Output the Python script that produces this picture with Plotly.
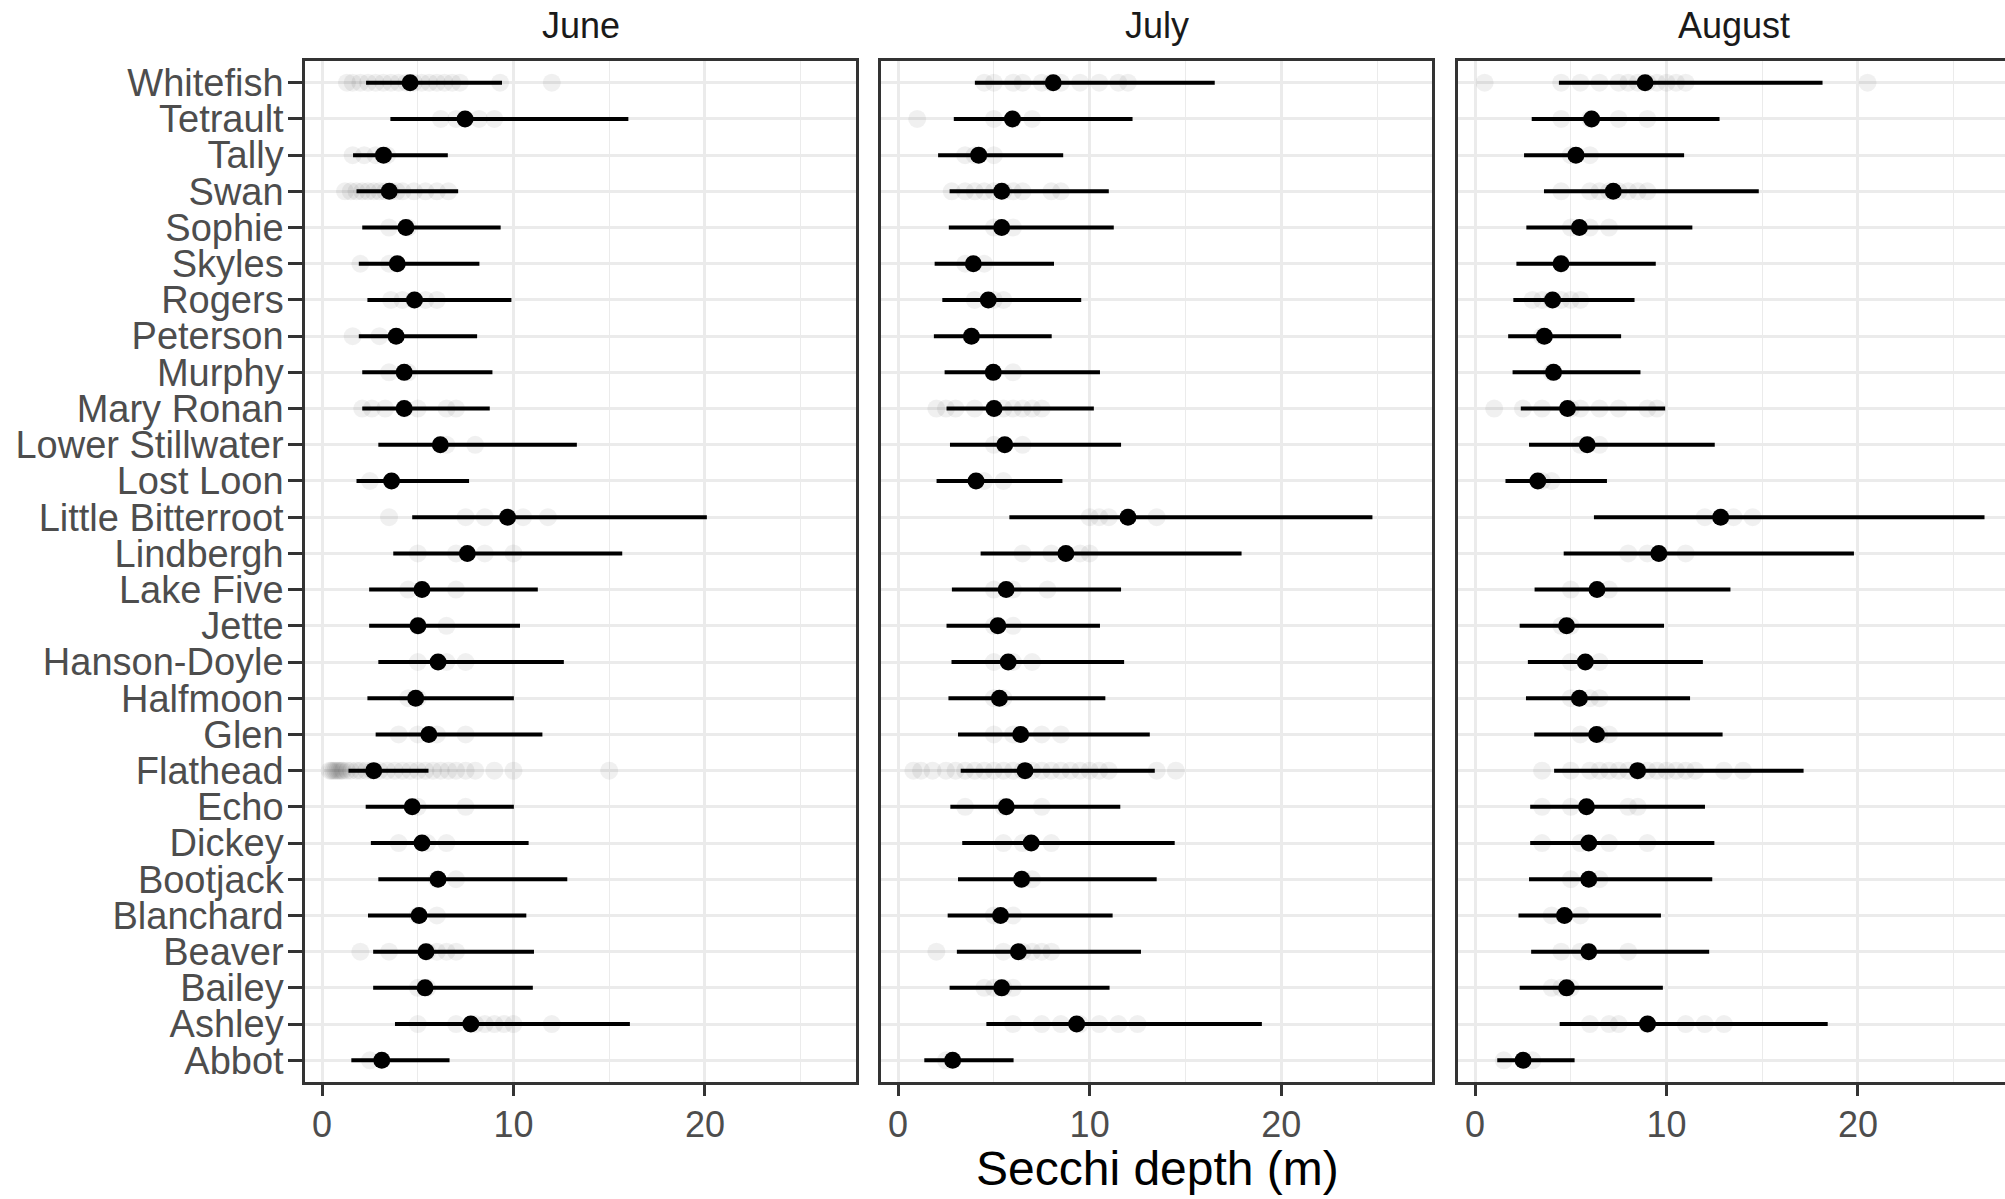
import plotly.graph_objects as go

W, H = 2005, 1199

lakes = ["Whitefish", "Tetrault", "Tally", "Swan", "Sophie", "Skyles", "Rogers",
         "Peterson", "Murphy", "Mary Ronan", "Lower Stillwater", "Lost Loon",
         "Little Bitterroot", "Lindbergh", "Lake Five", "Jette", "Hanson-Doyle",
         "Halfmoon", "Glen", "Flathead", "Echo", "Dickey", "Bootjack", "Blanchard",
         "Beaver", "Bailey", "Ashley", "Abbot"]
months = ["June", "July", "August"]

june_mean = [4.6, 7.47, 3.21, 3.51, 4.38, 3.93, 4.83, 3.87, 4.29, 4.29, 6.18, 3.63, 9.69, 7.59,
             5.22, 5.01, 6.06, 4.89, 5.58, 2.70, 4.71, 5.22, 6.06, 5.07, 5.43, 5.38, 7.77, 3.12]
june_lo = [2.3, 3.57, 1.62, 1.80, 2.10, 1.92, 2.37, 1.92, 2.10, 2.10, 2.94, 1.80, 4.71, 3.72,
           2.46, 2.46, 2.94, 2.37, 2.80, 1.38, 2.28, 2.55, 2.94, 2.40, 2.67, 2.67, 3.81, 1.53]
june_hi = [9.4, 16.0, 6.57, 7.11, 9.33, 8.22, 9.89, 8.10, 8.90, 8.76, 13.31, 7.68, 20.1, 15.68,
           11.27, 10.34, 12.63, 10.02, 11.51, 5.56, 10.02, 10.79, 12.81, 10.67, 11.07, 11.01, 16.08, 6.66]

july_mean = [8.10, 5.97, 4.21, 5.41, 5.41, 3.93, 4.71, 3.83, 4.97, 5.01, 5.57, 4.07, 12.0, 8.76,
             5.64, 5.21, 5.75, 5.29, 6.40, 6.63, 5.65, 6.95, 6.45, 5.35, 6.28, 5.41, 9.32, 2.85]
july_lo = [4.01, 2.91, 2.09, 2.69, 2.65, 1.91, 2.31, 1.87, 2.43, 2.53, 2.71, 2.01, 5.81, 4.31,
           2.81, 2.53, 2.79, 2.63, 3.13, 3.27, 2.73, 3.35, 3.13, 2.59, 3.07, 2.69, 4.61, 1.37]
july_hi = [16.53, 12.24, 8.62, 11.0, 11.26, 8.14, 9.56, 8.02, 10.54, 10.22, 11.64, 8.58, 24.76, 17.93,
           11.64, 10.54, 11.8, 10.82, 13.14, 13.4, 11.6, 14.44, 13.5, 11.2, 12.68, 11.04, 18.99, 6.03]

aug_mean = [8.88, 6.09, 5.27, 7.22, 5.45, 4.49, 4.05, 3.62, 4.10, 4.83, 5.86, 3.28, 12.83, 9.60,
            6.37, 4.78, 5.76, 5.45, 6.35, 8.49, 5.82, 5.94, 5.94, 4.67, 5.94, 4.78, 9.01, 2.51]
aug_lo = [4.38, 2.96, 2.56, 3.60, 2.68, 2.16, 2.0, 1.73, 1.96, 2.39, 2.82, 1.59, 6.21, 4.63,
          3.11, 2.33, 2.76, 2.66, 3.09, 4.13, 2.88, 2.88, 2.82, 2.27, 2.93, 2.33, 4.42, 1.16]
aug_hi = [18.15, 12.77, 10.92, 14.82, 11.35, 9.44, 8.33, 7.63, 8.64, 9.93, 12.52, 6.89, 26.61, 19.79,
          13.34, 9.87, 11.9, 11.23, 12.93, 17.16, 12.01, 12.5, 12.39, 9.71, 12.23, 9.81, 18.42, 5.20]

# individual Secchi readings (faint points)
raw_june = {
    "Whitefish": [1.3, 1.6, 2.0, 2.4, 2.8, 3.2, 3.6, 4.0, 4.4, 4.8, 5.2, 5.6, 6.0, 6.4, 6.8, 7.2, 9.3, 12.0],
    "Tetrault": [6.2, 7.0, 8.2, 9.0],
    "Tally": [1.6, 2.2, 2.8, 3.4],
    "Swan": [1.2, 1.5, 1.8, 2.1, 2.4, 2.7, 3.0, 3.3, 3.6, 3.9, 4.2, 4.8, 5.4, 6.0, 6.6],
    "Sophie": [3.5, 4.5],
    "Skyles": [2.0, 3.5],
    "Rogers": [3.6, 4.2, 4.8, 5.4, 6.0],
    "Peterson": [1.6, 3.0],
    "Murphy": [3.5, 4.5],
    "Mary Ronan": [2.1, 2.6, 3.3, 4.3, 5.0, 6.5, 7.0],
    "Lower Stillwater": [6.5, 8.0],
    "Lost Loon": [2.5],
    "Little Bitterroot": [3.5, 7.5, 8.5, 10.5, 11.8],
    "Lindbergh": [5.0, 7.0, 8.5, 10.0],
    "Lake Five": [4.5, 7.0],
    "Jette": [5.0, 6.5],
    "Hanson-Doyle": [5.0, 6.5, 7.5],
    "Halfmoon": [4.5, 5.0],
    "Glen": [4.0, 5.0, 6.0, 7.5],
    "Flathead": [0.4, 0.5, 0.6, 0.7, 0.8, 0.9, 1.0, 1.1, 1.3, 1.5, 1.8, 2.0, 2.3, 2.6, 3.0, 3.4, 3.8,
                 4.2, 4.6, 5.0, 5.4, 5.8, 6.2, 6.6, 7.0, 7.5, 8.0, 9.0, 10.0, 15.0],
    "Echo": [5.0, 7.5],
    "Dickey": [4.0, 5.5, 6.5],
    "Bootjack": [6.0, 7.0],
    "Blanchard": [5.0, 6.0],
    "Beaver": [2.0, 3.5, 5.5, 6.0, 6.5, 7.0],
    "Bailey": [5.0, 5.5],
    "Ashley": [5.0, 7.0, 8.0, 8.5, 9.0, 9.5, 10.0, 12.0],
    "Abbot": [2.5],
}
raw_july = {
    "Whitefish": [4.5, 5.0, 6.0, 6.5, 7.5, 8.0, 8.5, 9.5, 10.5, 11.5, 12.0],
    "Tetrault": [1.0, 5.0, 6.0, 7.0],
    "Tally": [3.5, 4.0, 5.0],
    "Swan": [2.8, 3.5, 4.0, 4.5, 5.0, 5.5, 6.0, 6.5, 8.0, 8.5],
    "Sophie": [5.0, 6.0],
    "Skyles": [3.5, 4.5],
    "Rogers": [4.0, 5.0, 5.5],
    "Murphy": [6.0],
    "Mary Ronan": [2.0, 2.5, 3.0, 4.0, 5.0, 5.5, 6.0, 6.5, 7.0, 7.5],
    "Lower Stillwater": [5.0, 6.5],
    "Lost Loon": [4.5, 5.5],
    "Little Bitterroot": [10.0, 10.5, 11.0, 13.5],
    "Lindbergh": [6.5, 8.0, 9.5, 10.0],
    "Lake Five": [5.0, 6.0, 7.8],
    "Jette": [5.0, 6.0],
    "Hanson-Doyle": [5.0, 6.0, 7.0],
    "Halfmoon": [5.0, 5.5],
    "Glen": [5.0, 6.0, 7.5, 8.5],
    "Flathead": [0.8, 1.2, 1.8, 2.5, 3.0, 3.5, 4.0, 4.5, 5.0, 5.5, 6.0, 6.5, 7.0, 7.5, 8.0, 8.5,
                 9.0, 9.5, 10.0, 10.5, 11.0, 13.5, 14.5],
    "Echo": [3.5, 5.5, 7.5],
    "Dickey": [5.5, 6.5, 8.0],
    "Bootjack": [6.5, 7.0],
    "Blanchard": [5.0, 6.0],
    "Beaver": [2.0, 5.5, 6.5, 7.0, 7.5, 8.0],
    "Bailey": [4.5, 5.0, 5.5, 6.0],
    "Ashley": [6.0, 7.5, 8.5, 9.5, 10.5, 11.5, 12.5],
    "Abbot": [2.5],
}
raw_august = {
    "Whitefish": [0.5, 4.5, 5.5, 6.5, 7.5, 8.0, 8.5, 9.0, 9.5, 10.0, 10.5, 11.0, 20.5],
    "Tetrault": [4.5, 6.0, 7.5, 9.0],
    "Tally": [5.0, 6.0],
    "Swan": [4.5, 6.0, 6.5, 7.0, 7.5, 8.0, 8.5, 9.0],
    "Sophie": [5.0, 6.0, 7.0],
    "Skyles": [4.5],
    "Rogers": [3.0, 3.5, 4.0, 4.5, 5.0, 5.5],
    "Peterson": [3.5],
    "Murphy": [4.0],
    "Mary Ronan": [1.0, 2.5, 3.5, 5.0, 5.5, 6.5, 7.5, 9.0, 9.5],
    "Lower Stillwater": [5.5, 6.5],
    "Lost Loon": [3.5, 4.0],
    "Little Bitterroot": [12.0, 13.5, 14.5],
    "Lindbergh": [8.0, 9.0, 11.0],
    "Lake Five": [5.0, 7.0],
    "Jette": [4.5, 5.0],
    "Hanson-Doyle": [5.0, 6.5],
    "Halfmoon": [5.0, 6.0, 6.5],
    "Glen": [5.5, 6.5, 7.0],
    "Flathead": [3.5, 5.0, 6.0, 6.5, 7.0, 7.5, 8.0, 8.5, 9.0, 9.5, 10.0, 10.5, 11.0, 11.5, 13.0, 14.0],
    "Echo": [3.5, 5.0, 8.0, 8.5],
    "Dickey": [3.5, 5.5, 7.0, 9.0],
    "Bootjack": [5.0, 6.5],
    "Blanchard": [4.0, 5.5],
    "Beaver": [4.5, 5.5, 8.0],
    "Bailey": [4.0, 4.5, 5.0],
    "Ashley": [6.0, 7.0, 7.5, 9.0, 11.0, 12.0, 13.0],
    "Abbot": [1.5, 3.0],
}

x_ticks = [0, 10, 20]
x_minor = [5, 15, 25]

# ---------------- layout geometry (pixels) ----------------
panel_left = [305, 881, 1458]
panel_w = 551
top_px, bot_px = 61, 1082
x_ranges = [[-0.89, 27.89], [-0.89, 27.87], [-0.89, 27.68]]

n = len(lakes)
ypos = {lk: n - 1 - i for i, lk in enumerate(lakes)}
ys = [ypos[lk] for lk in lakes]

means = [june_mean, july_mean, aug_mean]
los = [june_lo, july_lo, aug_lo]
his = [june_hi, july_hi, aug_hi]
raws = [raw_june, raw_july, raw_august]

FONT = "Liberation Sans, Arial, sans-serif"
GRID = "#EBEBEB"
BORDER = "#333333"

fig = go.Figure()
for k in range(3):
    xa = "x" if k == 0 else f"x{k+1}"
    ya = "y" if k == 0 else f"y{k+1}"
    rx, ry = [], []
    for lk, vals in raws[k].items():
        for v in vals:
            rx.append(v)
            ry.append(ypos[lk])
    fig.add_trace(go.Scatter(x=rx, y=ry, mode="markers", xaxis=xa, yaxis=ya,
                             marker=dict(size=18, color="rgba(0,0,0,0.06)", line=dict(width=0)),
                             showlegend=False, hoverinfo="skip"))
    m = means[k]
    fig.add_trace(go.Scatter(
        x=m, y=ys, mode="markers", xaxis=xa, yaxis=ya,
        marker=dict(size=17, color="black", line=dict(width=0)),
        error_x=dict(type="data", symmetric=False,
                     array=[h - v for h, v in zip(his[k], m)],
                     arrayminus=[v - l for v, l in zip(m, los[k])],
                     width=0, thickness=4, color="black"),
        showlegend=False))

layout = dict(width=W, height=H, margin=dict(l=0, r=0, t=0, b=0),
              paper_bgcolor="white", plot_bgcolor="white", showlegend=False,
              font=dict(family=FONT))
for k in range(3):
    x0 = panel_left[k] / W
    x1 = min((panel_left[k] + panel_w) / W, 1.0)
    xk = "xaxis" if k == 0 else f"xaxis{k+1}"
    yk = "yaxis" if k == 0 else f"yaxis{k+1}"
    layout[xk] = dict(domain=[x0, x1], range=x_ranges[k], anchor="y" if k == 0 else f"y{k+1}",
                      tickvals=x_ticks, ticktext=[str(t) for t in x_ticks],
                      showgrid=True, gridcolor=GRID, gridwidth=2.5, zeroline=False,
                      minor=dict(tickvals=x_minor, showgrid=True, gridcolor=GRID, gridwidth=1.3, ticks=""),
                      showline=True, linecolor=BORDER, linewidth=2.5, mirror=True,
                      ticks="outside", ticklen=11, tickwidth=3, tickcolor=BORDER,
                      ticklabelstandoff=-2,
                      tickfont=dict(size=36, color="#4D4D4D", family=FONT), fixedrange=True)
    layout[yk] = dict(domain=[1 - bot_px / H, 1 - top_px / H], range=[-0.6, n - 0.4],
                      anchor="x" if k == 0 else f"x{k+1}",
                      tickvals=list(range(n)), ticktext=[lakes[n - 1 - i] for i in range(n)],
                      showgrid=True, gridcolor=GRID, gridwidth=2.5, zeroline=False,
                      showline=True, linecolor=BORDER, linewidth=2.5,
                      mirror=(k < 2), fixedrange=True,
                      showticklabels=(k == 0),
                      ticks="outside" if k == 0 else "", ticklen=14, tickwidth=3, tickcolor=BORDER,
                      ticklabelstandoff=-3,
                      tickfont=dict(size=38, color="#4D4D4D", family=FONT))
fig.update_layout(**layout)

annotations = []
for k, mname in enumerate(months):
    cx = (panel_left[k] + panel_w / 2) / W
    annotations.append(dict(text=mname, x=cx, y=1 - 25 / H, xref="paper", yref="paper",
                            xanchor="center", yanchor="middle", showarrow=False,
                            font=dict(size=36, color="#1A1A1A", family=FONT)))
annotations.append(dict(text="Secchi depth (m)", x=1157 / W, y=1 - 1168 / H, xref="paper", yref="paper",
                        xanchor="center", yanchor="middle", showarrow=False,
                        font=dict(size=48, color="black", family=FONT)))
fig.update_layout(annotations=annotations)

fig.write_html("out.html")
